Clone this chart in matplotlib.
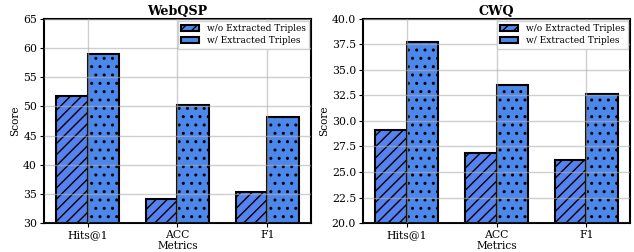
import numpy as np
import matplotlib
matplotlib.use('Agg')
import matplotlib.pyplot as plt
from matplotlib.patches import Patch

plt.rcParams['font.family'] = 'DejaVu Serif'
plt.rcParams['hatch.linewidth'] = 1.0

metrics = ['Hits@1', 'ACC', 'F1']
webqsp_wo = [51.8, 34.1, 35.4]
webqsp_w = [58.9, 50.2, 48.2]
cwq_wo = [29.1, 26.9, 26.2]
cwq_w = [37.7, 33.5, 32.6]

c_wo = '#5582ee'
c_w = '#4c87ec'

def draw(ax, wo, w, title, ylim, yticks):
    x = np.arange(len(metrics))
    width = 0.35
    ax.bar(x - width / 2, wo, width, color=c_wo, edgecolor='black', linewidth=1.5,
           hatch='///')
    ax.bar(x + width / 2, w, width, color=c_w, edgecolor='black', linewidth=1.5,
           hatch='..')
    # grid sits on top of the bars in the original
    ax.grid(color='#b0b0b0', linewidth=1.0, alpha=0.6)
    ax.set_axisbelow(False)
    ax.set_xticks(x)
    ax.set_xticklabels(metrics)
    ax.set_ylim(*ylim)
    ax.set_yticks(yticks)
    ax.set_title(title, fontweight='bold', fontsize=9.2, pad=3)
    ax.set_xlabel('Metrics', fontsize=7.6, labelpad=1)
    ax.set_ylabel('Score', fontsize=7.6, labelpad=2)
    ax.tick_params(labelsize=7.8, length=3, pad=2)
    for s in ax.spines.values():
        s.set_linewidth(1.5)
    handles = [Patch(facecolor=c_wo, edgecolor='black', linewidth=1.5, hatch='///'),
               Patch(facecolor=c_w, edgecolor='black', linewidth=1.5)]
    ax.legend(handles, ['w/o Extracted Triples', 'w/ Extracted Triples'],
              loc='upper right', fontsize=6.5, fancybox=False, framealpha=0.9,
              edgecolor='#cccccc', handlelength=2.0, handleheight=0.6,
              borderpad=0.35, labelspacing=0.35, borderaxespad=0.25)

fig, (ax1, ax2) = plt.subplots(1, 2, figsize=(6.34, 2.52), dpi=100)
draw(ax1, webqsp_wo, webqsp_w, 'WebQSP', (30, 65), np.arange(30, 66, 5))
draw(ax2, cwq_wo, cwq_w, 'CWQ', (20, 40), np.arange(20, 40.1, 2.5))
ax2.set_yticklabels(['%.1f' % v for v in np.arange(20, 40.1, 2.5)])
fig.subplots_adjust(left=0.0694, right=0.9937, top=0.925, bottom=0.115, wspace=0.195)
fig.savefig('out.png', dpi=100)
